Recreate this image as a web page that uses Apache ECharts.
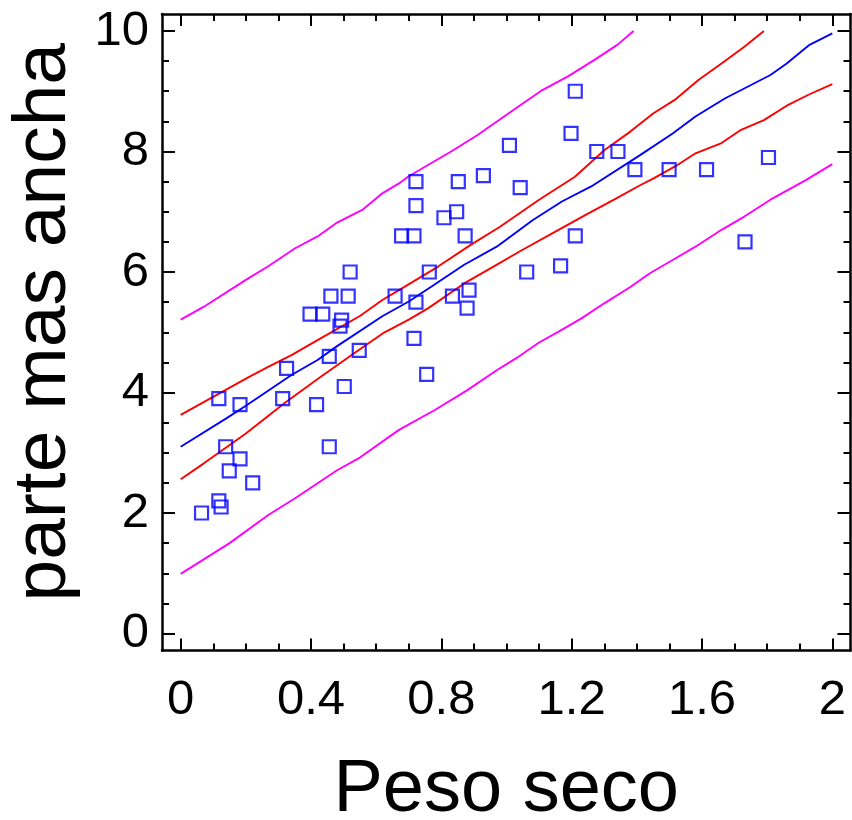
<!DOCTYPE html>
<html><head><meta charset="utf-8">
<script src="https://cdn.jsdelivr.net/npm/echarts@6/dist/echarts.min.js"></script>
<style>html,body{margin:0;padding:0;background:#fff}#c{width:852px;height:820px}</style>
</head><body><div id="c"></div>
<script>
// ---- data ----
const xTicks = [0, 0.4, 0.8, 1.2, 1.6, 2];
const xMinorTicks = [0.1, 0.2, 0.3, 0.5, 0.6, 0.7, 0.9, 1.0, 1.1, 1.3, 1.4, 1.5, 1.7, 1.8, 1.9];
const yTicks = [0, 2, 4, 6, 8, 10];
const yMinorTicks = [0.5, 1, 1.5, 2.5, 3, 3.5, 4.5, 5, 5.5, 6.5, 7, 7.5, 8.5, 9, 9.5];
const xRange = [-0.0574, 2.0558];
const yRange = [-0.282, 10.282];
const xTitle = 'Peso seco';
const yTitle = 'parte mas ancha';

const pesoSeco = [0.064,0.117,0.124,0.221,0.149,0.182,0.138,0.456,0.117,0.182,0.313,0.417,0.502,0.755,0.325,0.456,0.548,0.716,0.489,0.494,0.397,0.436,0.879,0.722,0.885,0.461,0.514,0.658,0.834,0.520,0.763,0.678,0.716,0.873,0.808,0.847,0.722,0.722,0.852,0.929,1.009,1.042,1.062,1.166,1.211,1.198,1.211,1.277,1.342,1.394,1.499,1.614,1.804,1.732];
const parteMasAncha = [2.0,2.2,2.1,2.5,2.7,2.9,3.1,3.1,3.9,3.8,3.9,3.8,4.1,4.3,4.4,4.6,4.7,4.9,5.1,5.2,5.3,5.3,5.4,5.5,5.7,5.6,5.6,5.6,5.6,6.0,6.0,6.6,6.6,6.6,6.9,7.0,7.1,7.5,7.5,7.6,8.1,7.4,6.0,6.1,6.6,8.3,9.0,8.0,8.0,7.7,7.7,7.7,7.9,6.5];

const fitX = [0,0.14,0.20,0.34,0.42,0.48,0.62,0.70,0.77,0.87,0.97,1.08,1.17,1.26,1.41,1.51,1.58,1.67,1.81,1.86,1.93,2.0];
const fitY = [3.10,3.57,3.78,4.29,4.54,4.77,5.27,5.51,5.76,6.12,6.42,6.86,7.17,7.42,7.94,8.30,8.58,8.88,9.27,9.46,9.77,9.96];

const confUpX = [0,0.21,0.27,0.34,0.42,0.55,0.62,0.67,0.79,0.89,0.98,1.10,1.21,1.30,1.38,1.45,1.52,1.59,1.66,1.73,1.79];
const confUpY = [3.63,4.26,4.43,4.62,4.87,5.27,5.54,5.70,6.09,6.45,6.75,7.20,7.58,8.02,8.33,8.63,8.87,9.19,9.46,9.74,10.0];

const confLoX = [0,0.07,0.20,0.32,0.43,0.54,0.62,0.70,0.76,0.87,0.96,1.04,1.15,1.25,1.33,1.41,1.45,1.52,1.58,1.66,1.72,1.79,1.86,1.93,2.0];
const confLoY = [2.56,2.82,3.32,3.83,4.26,4.68,4.98,5.21,5.40,5.81,6.09,6.34,6.67,6.97,7.20,7.44,7.55,7.76,7.97,8.14,8.36,8.52,8.76,8.95,9.12];

const predUpX = [0,0.07,0.20,0.27,0.35,0.42,0.48,0.56,0.62,0.67,0.70,0.83,0.91,1.04,1.11,1.19,1.27,1.34,1.39];
const predUpY = [5.21,5.42,5.87,6.10,6.39,6.59,6.82,7.04,7.31,7.47,7.59,8.00,8.27,8.76,9.02,9.25,9.52,9.77,10.0];

const predLoX = [0,0.15,0.27,0.35,0.48,0.55,0.67,0.78,0.88,0.97,1.03,1.10,1.16,1.23,1.30,1.38,1.44,1.51,1.58,1.66,1.73,1.81,1.92,2.0];
const predLoY = [0.99,1.50,1.97,2.24,2.71,2.92,3.38,3.71,4.04,4.37,4.57,4.83,5.01,5.23,5.48,5.75,5.98,6.20,6.42,6.70,6.92,7.20,7.53,7.79];

// ---- chart ----
const zip = (a, b) => a.map((v, i) => [v, b[i]]);
const FONT = '"Liberation Sans", Arial, Helvetica, sans-serif';
const chart = echarts.init(document.getElementById('c'), null, {renderer: 'canvas'});

function axis(dim, pos, ticks, len, opts) {
  const isX = dim === 'x';
  const range = isX ? xRange : yRange;
  const a = {
    type: 'value', position: pos, min: range[0], max: range[1],
    axisLine: {show: !!opts.line, onZero: false, lineStyle: {color: '#000', width: 2.5}},
    axisTick: {show: true, inside: true, length: len, customValues: ticks,
               lineStyle: {color: '#000', width: 2}},
    minorTick: {show: false},
    splitLine: {show: false},
    axisLabel: {show: !!opts.labels, customValues: ticks, fontSize: 49, color: '#000',
                fontFamily: FONT, margin: isX ? 25 : 13,
                formatter: v => String(+v.toFixed(2))},
    axisPointer: {show: false}
  };
  if (opts.labels) {
    a.name = isX ? xTitle : yTitle;
    a.nameLocation = 'middle';
    if (isX) {
      a.nameGap = 103;
      a.nameTextStyle = {fontSize: 74, color: '#000', fontFamily: FONT};
    } else {
      a.nameGap = 80;
      a.nameRotate = 90;
      a.nameTextStyle = {fontSize: 75, color: '#000', fontFamily: FONT, padding: [0, 0, 0, 20]};
    }
  }
  return a;
}

const lineSeries = (data, color) => ({
  type: 'line', data: data, showSymbol: false, symbol: 'none', smooth: false, clip: false,
  lineStyle: {color: color, width: 1.9}, xAxisIndex: 0, yAxisIndex: 0, z: 2
});

chart.setOption({
  animation: false,
  backgroundColor: '#fff',
  grid: {left: 162, right: 1.5, top: 14, bottom: 169.5, containLabel: false, outerBoundsMode: 'none'},
  xAxis: [
    axis('x', 'bottom', xTicks, 12, {line: true, labels: true}),
    axis('x', 'bottom', xMinorTicks, 7, {}),
    axis('x', 'top', xTicks, 12, {line: true}),
    axis('x', 'top', xMinorTicks, 7, {})
  ],
  yAxis: [
    axis('y', 'left', yTicks, 13, {line: true, labels: true}),
    axis('y', 'left', yMinorTicks, 7, {}),
    axis('y', 'right', yTicks, 13, {line: true}),
    axis('y', 'right', yMinorTicks, 7, {})
  ],
  series: [
    lineSeries(zip(predUpX, predUpY), '#ff00ff'),
    lineSeries(zip(predLoX, predLoY), '#ff00ff'),
    lineSeries(zip(confUpX, confUpY), '#ff0000'),
    lineSeries(zip(confLoX, confLoY), '#ff0000'),
    lineSeries(zip(fitX, fitY), '#0000ff'),
    {
      type: 'scatter', data: zip(pesoSeco, parteMasAncha), symbol: 'rect', symbolSize: 13,
      itemStyle: {color: 'rgba(0,0,0,0)', borderColor: '#0000ff', borderWidth: 2.2}, z: 3
    }
  ]
});
</script></body></html>
